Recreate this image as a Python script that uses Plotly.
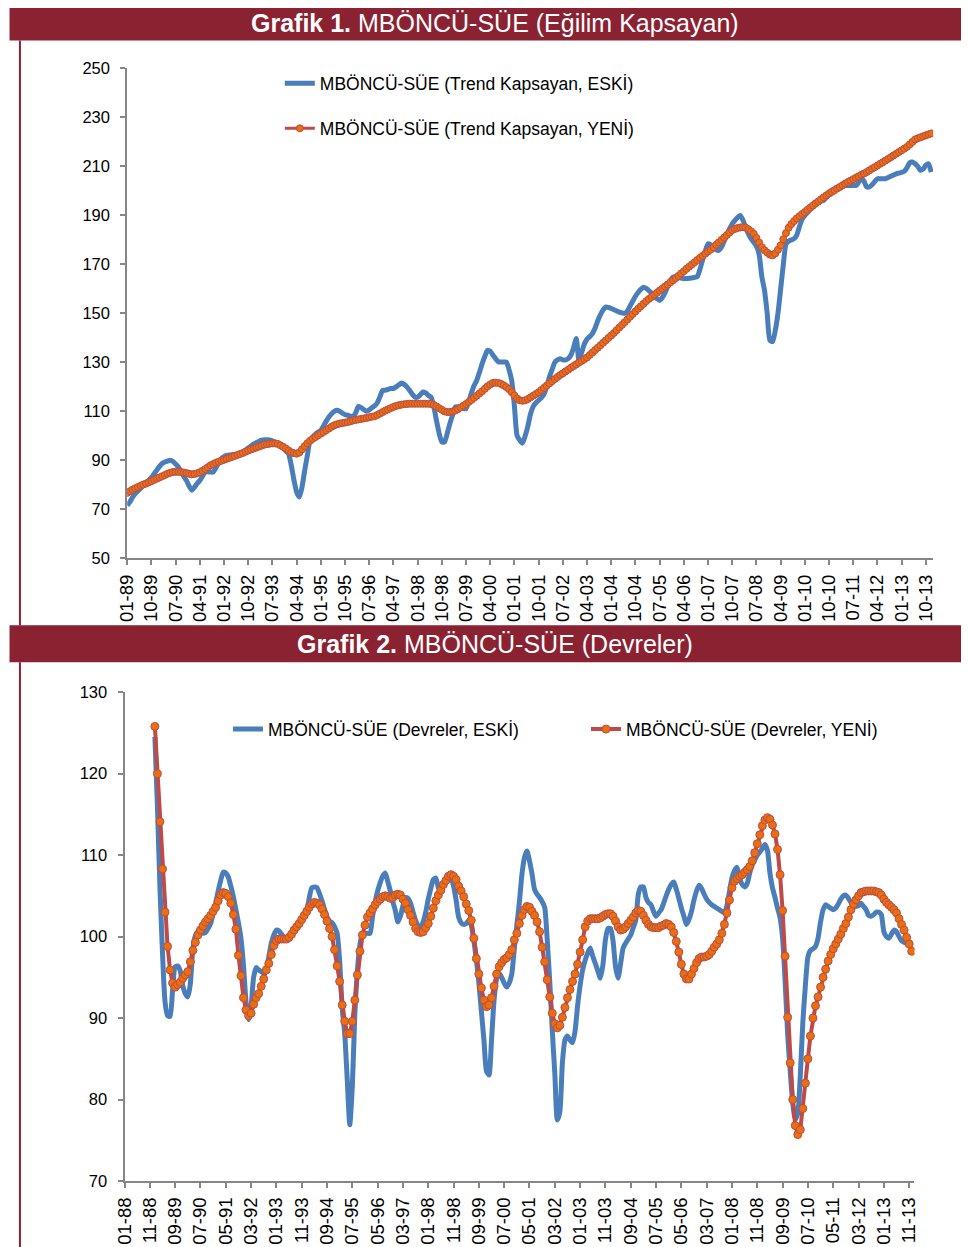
import plotly.graph_objects as go

# ---------------- DATA ----------------
# Chart 1: monthly, 01-1989 .. 12-2013
trend_old = [
    71.6, 73.0, 75.0, 76.4, 77.5, 78.6, 80.0, 81.0, 81.8, 83.0, 84.5, 86.0,
    87.5, 88.7, 89.3, 89.7, 90.0, 89.5, 88.5, 87.3, 85.5, 83.5, 81.8, 79.5,
    77.8, 79.0, 80.5, 81.8, 83.5, 85.2, 85.3, 85.2, 85.2, 87.0, 89.0, 90.7,
    91.5, 92.0, 92.2, 92.3, 92.4, 92.4, 92.8, 93.4, 94.2, 95.0, 95.8, 96.6,
    97.2, 97.8, 98.2, 98.4, 98.4, 98.3, 98.0, 97.4, 96.8, 96.0, 95.0, 93.8,
    92.7, 88.0, 82.0, 77.0, 75.0, 79.0, 85.9, 92.0, 98.2, 99.5, 100.7, 101.5,
    102.2, 104.0, 106.0, 107.7, 109.0, 110.0, 110.4, 110.0, 109.3, 108.6, 108.4, 108.0,
    107.7, 109.5, 112.0, 111.5, 110.7, 110.0, 110.6, 111.5, 112.2, 113.5, 116.0, 118.6,
    118.6, 119.0, 119.3, 119.3, 120.0, 120.8, 121.6, 121.0, 120.0, 118.6, 117.0, 115.8,
    115.8, 116.8, 117.9, 117.5, 116.5, 115.8, 112.0, 106.3, 101.0, 97.5, 97.5, 101.0,
    105.0, 108.5, 111.8, 111.8, 111.5, 111.1, 111.1, 114.0, 117.5, 120.5, 122.7, 126.0,
    129.5, 132.5, 134.9, 134.5, 133.0, 131.5, 130.2, 130.1, 130.1, 130.1, 127.0, 122.5,
    112.0, 100.0, 98.2, 97.0, 100.0, 104.0, 109.0, 112.0, 113.5, 114.5, 115.5, 117.0,
    120.0, 124.0, 127.0, 130.0, 131.0, 131.5, 131.0, 131.0, 131.5, 133.0, 136.0, 139.7,
    130.8, 134.0, 137.5, 139.5, 140.5, 141.7, 144.0, 147.0, 149.5, 151.5, 152.6, 152.4,
    152.0, 151.5, 151.0, 150.5, 150.2, 150.0, 151.0, 153.0, 155.0, 157.0, 158.5, 159.8,
    160.7, 160.2, 159.3, 158.3, 157.0, 156.0, 155.3, 156.5, 158.5, 161.0, 163.5, 164.8,
    164.8, 164.6, 164.4, 164.2, 164.2, 164.3, 164.5, 164.7, 165.0, 168.0, 172.0, 175.5,
    178.4, 178.0, 177.0, 176.0, 175.7, 177.0, 179.5, 182.0, 184.5, 186.6, 188.0, 189.2,
    190.0, 188.0, 185.0, 182.5, 180.5, 179.0, 177.5, 174.0, 165.0, 159.4, 150.0, 139.0,
    138.5, 143.0, 150.0, 160.0, 170.0, 178.4, 179.5, 180.0, 180.5, 182.0, 185.5, 188.5,
    190.0, 191.2, 192.3, 193.4, 194.3, 195.1, 195.8, 196.1, 197.5, 199.5, 200.2, 200.7,
    201.2, 201.6, 202.0, 202.2, 202.2, 202.2, 202.2, 202.2, 203.5, 205.2, 204.0, 201.6,
    201.6, 202.5, 203.8, 205.0, 205.0, 205.0, 205.0, 205.5, 206.0, 206.5, 207.0, 207.3,
    207.6, 208.0, 209.5, 211.5, 211.8, 211.1, 210.0, 208.4, 209.0, 210.5, 211.1, 207.7,
]
trend_new = [
    76.7, 77.4, 78.0, 78.6, 79.1, 79.6, 80.1, 80.5, 81.0, 81.5, 82.0, 82.5,
    83.0, 83.5, 84.0, 84.5, 84.9, 85.2, 85.3, 85.3, 85.2, 85.0, 84.8, 84.5,
    84.3, 84.4, 84.7, 85.1, 85.7, 86.4, 87.2, 88.0, 88.5, 89.0, 89.4, 89.8,
    90.2, 90.6, 91.0, 91.4, 91.8, 92.2, 92.6, 93.0, 93.5, 94.0, 94.4, 94.8,
    95.2, 95.6, 96.0, 96.4, 96.6, 96.8, 96.9, 96.9, 96.7, 96.1, 95.5, 94.8,
    94.0, 93.3, 92.9, 92.7, 93.2, 94.5, 95.8, 97.0, 98.0, 98.8, 99.5, 100.2,
    100.9, 101.6, 102.3, 103.0, 103.7, 104.3, 104.7, 105.0, 105.2, 105.4, 105.6, 105.9,
    106.3, 106.5, 106.7, 106.9, 107.1, 107.3, 107.6, 107.8, 108.0, 108.5, 109.1, 109.7,
    110.3, 110.8, 111.3, 111.8, 112.2, 112.5, 112.7, 112.9, 113.0, 113.1, 113.1, 113.1,
    113.1, 113.1, 113.1, 113.1, 113.1, 113.0, 112.6, 112.0, 111.3, 110.6, 110.0, 109.7,
    109.7, 109.9, 110.3, 110.9, 111.6, 112.3, 113.0, 113.8, 114.6, 115.5, 116.4, 117.3,
    118.2, 119.2, 120.2, 121.0, 121.6, 121.7, 121.6, 121.2, 120.6, 119.9, 119.0, 117.8,
    116.5, 115.2, 114.5, 114.3, 114.5, 115.0, 115.7, 116.4, 117.1, 117.8, 118.7, 119.6,
    120.5, 121.4, 122.3, 123.2, 124.0, 124.8, 125.5, 126.3, 127.0, 127.8, 128.5, 129.2,
    129.9, 130.6, 131.3, 132.0, 133.0, 134.0, 135.0, 136.0, 137.0, 138.0, 139.0, 140.0,
    141.0, 142.0, 143.1, 144.2, 145.3, 146.4, 147.5, 148.6, 149.7, 150.8, 151.9, 152.9,
    153.9, 155.0, 155.9, 156.7, 157.6, 158.4, 159.3, 160.1, 161.0, 161.8, 162.7, 163.5,
    164.4, 165.3, 166.3, 167.2, 168.2, 169.1, 170.0, 170.9, 171.8, 172.7, 173.5, 174.4,
    175.3, 176.1, 177.0, 178.0, 179.0, 180.0, 181.0, 182.0, 183.0, 184.0, 184.5, 184.9,
    185.1, 185.2, 185.0, 184.4, 183.5, 182.5, 180.8, 178.9, 177.0, 175.8, 174.8, 174.0,
    173.7, 174.5, 176.0, 177.8, 180.3, 182.8, 185.0, 186.5, 187.7, 188.8, 189.7, 190.6,
    191.4, 192.3, 193.2, 194.0, 194.9, 195.7, 196.6, 197.4, 198.2, 198.9, 199.6, 200.3,
    201.0, 201.6, 202.3, 203.0, 203.6, 204.2, 204.8, 205.4, 206.0, 206.6, 207.1, 207.7,
    208.4, 209.1, 209.7, 210.4, 211.1, 211.7, 212.4, 213.1, 213.8, 214.5, 215.2, 215.9,
    216.6, 217.3, 218.0, 219.0, 220.0, 221.0, 221.5, 221.9, 222.3, 222.7, 223.1, 223.5,
]

# Chart 2: monthly, 01-1989 .. 12-2013 (axis starts 01-1988)
cycle_old = [
    124.5, 116.0, 106.0, 98.0, 92.0, 90.3, 90.2, 93.5, 96.3, 96.4, 95.8, 94.0,
    93.0, 92.6, 94.2, 98.5, 100.1, 100.6, 100.5, 100.4, 100.5, 101.0, 101.6, 102.8,
    104.1, 105.6, 106.9, 107.9, 107.8, 107.3, 106.2, 104.9, 103.3, 101.7, 99.8, 96.5,
    92.0, 89.8, 91.4, 95.0, 96.2, 95.9, 95.7, 95.5, 96.0, 97.5, 99.2, 100.2,
    100.8, 100.7, 100.3, 99.9, 99.8, 100.1, 100.5, 100.9, 101.3, 101.7, 102.0, 102.5,
    103.1, 104.8, 106.0, 106.1, 106.0, 105.3, 104.4, 103.4, 102.4, 101.9, 101.7, 101.2,
    100.4, 97.0, 91.2, 88.1, 82.4, 76.9, 81.6, 90.5, 95.8, 99.0, 100.4, 100.4,
    100.4, 100.4, 102.5, 104.2, 105.6, 106.6, 107.4, 107.8, 106.8, 105.6, 104.3, 103.2,
    101.8, 102.5, 103.8, 104.8, 104.7, 104.1, 103.0, 102.0, 101.3, 101.3, 101.8, 103.0,
    104.6, 105.9, 107.0, 107.2, 106.0, 105.6, 106.2, 106.8, 107.2, 107.2, 106.2, 104.5,
    102.4, 101.7, 101.5, 101.6, 102.0, 101.4, 99.5, 97.2, 94.3, 90.8, 87.3, 83.5,
    83.0, 87.3, 92.2, 94.8, 95.5, 95.0, 94.3, 93.8, 94.3, 95.4, 98.5, 101.4,
    104.2, 107.6, 109.7, 110.5, 109.3, 107.7, 105.8, 105.2, 104.8, 104.3, 103.6, 99.6,
    94.5, 88.5, 83.2, 77.5, 78.5, 84.5, 87.3, 87.8, 87.3, 87.0, 88.4, 91.5,
    94.0, 95.9, 97.1, 98.0, 98.6, 97.6, 96.7, 95.8, 94.9, 96.5, 99.6, 101.0,
    101.0, 99.5, 96.3, 94.9, 96.7, 98.6, 99.2, 99.7, 100.2, 101.1, 102.0, 105.2,
    106.1, 106.1, 104.8, 104.2, 103.9, 103.1, 102.5, 102.9, 103.3, 104.1, 105.0, 105.8,
    106.4, 106.7, 105.8, 104.7, 103.5, 102.5, 101.5, 102.1, 103.1, 104.5, 105.6, 106.3,
    105.9, 105.2, 104.6, 104.2, 103.9, 103.7, 103.5, 103.3, 103.1, 102.9, 103.8, 105.5,
    107.2, 108.1, 108.5, 107.2, 106.4, 106.1, 106.5, 107.8, 108.8, 109.4, 110.0, 110.4,
    110.8, 111.3, 110.6, 107.8, 106.0, 104.8, 103.5, 102.3, 99.8, 94.5, 88.0, 83.5,
    79.6, 77.6, 78.3, 83.0, 89.5, 94.0, 97.5, 98.3, 98.5, 98.8, 99.8, 101.8,
    103.3, 103.9, 103.7, 103.5, 103.3, 103.5, 104.0, 104.6, 105.0, 105.1, 104.7, 104.2,
    103.9, 103.7, 103.8, 104.1, 103.7, 103.3, 102.6, 102.5, 102.7, 103.0, 103.0, 102.7,
    100.6, 100.0, 99.8, 100.3, 100.8, 100.6, 100.0, 99.5, 99.3, 99.2, 99.2, 99.2,
]
cycle_new = [
    125.8, 120.0, 114.1, 108.3, 103.0, 98.8, 95.9, 94.3, 93.8, 94.1, 94.4, 94.9,
    95.3, 95.7, 96.9, 98.3, 99.3, 100.2, 100.8, 101.3, 101.8, 102.2, 102.6, 103.1,
    103.6, 104.4, 105.1, 105.4, 105.3, 104.9, 104.1, 102.7, 100.9, 97.7, 95.2, 92.5,
    91.0, 90.3, 90.6, 91.7, 92.5, 93.0, 93.9, 94.8, 95.9, 96.7, 97.8, 98.9,
    99.5, 99.7, 99.7, 99.7, 99.7, 99.9, 100.3, 100.8, 101.2, 101.6, 102.1, 102.6,
    103.1, 103.6, 104.0, 104.2, 104.1, 103.9, 103.4, 102.7, 101.9, 101.0, 100.0, 98.4,
    96.4, 94.5, 91.6, 89.6, 88.1, 88.1, 89.6, 92.2, 95.3, 98.2, 100.2, 101.4,
    102.4, 102.9, 103.4, 103.9, 104.3, 104.6, 104.9, 105.0, 104.9, 104.7, 104.8, 105.1,
    105.2, 105.1, 104.6, 104.1, 103.3, 102.6, 101.8, 101.0, 100.6, 100.5, 100.6, 101.1,
    101.6, 102.5, 103.5, 104.4, 105.1, 105.7, 106.4, 106.9, 107.4, 107.6, 107.4, 107.0,
    106.2, 105.6, 104.9, 104.0, 103.2, 102.0, 99.8, 97.3, 95.4, 93.7, 92.2, 91.4,
    91.6, 92.5, 93.9, 95.4, 96.3, 96.8, 97.2, 97.4, 97.8, 98.4, 99.6, 100.4,
    101.6, 102.6, 103.3, 103.7, 103.6, 103.1, 102.6, 101.8, 100.6, 98.7, 96.9, 94.7,
    92.6, 90.6, 89.3, 88.8, 89.1, 90.1, 91.3, 92.5, 93.5, 94.5, 95.4, 96.6,
    98.1, 99.6, 101.2, 101.9, 102.2, 102.2, 102.2, 102.2, 102.3, 102.5, 102.7, 102.8,
    102.8, 102.5, 101.9, 101.2, 100.8, 100.9, 101.2, 101.6, 102.0, 102.4, 102.9, 103.2,
    103.1, 102.6, 102.0, 101.5, 101.2, 101.1, 101.1, 101.1, 101.3, 101.4, 101.6, 101.5,
    101.2, 100.5, 99.4, 98.1, 96.6, 95.4, 94.8, 94.8, 95.4, 96.1, 96.8, 97.3,
    97.5, 97.5, 97.6, 97.8, 98.2, 98.7, 99.1, 99.6, 100.4, 101.5, 102.9, 104.5,
    106.0, 106.8, 107.1, 107.4, 107.6, 107.9, 108.2, 108.6, 109.3, 110.3, 111.4, 112.5,
    113.6, 114.3, 114.6, 114.4, 113.7, 112.6, 110.7, 107.6, 103.2, 97.6, 90.1, 84.5,
    80.0, 76.8, 75.7, 76.3, 78.9, 82.0, 85.0, 87.8, 90.0, 91.5, 92.6, 93.8,
    95.0, 96.0, 97.0, 97.8, 98.5, 99.1, 99.7, 100.3, 101.0, 101.6, 102.4, 103.3,
    104.0, 104.5, 105.0, 105.4, 105.5, 105.6, 105.6, 105.6, 105.6, 105.5, 105.4, 105.1,
    104.6, 104.2, 103.9, 103.6, 103.3, 102.9, 102.2, 101.5, 100.8, 99.9, 99.1, 98.2,
]

ticks1 = ["01-89", "10-89", "07-90", "04-91", "01-92", "10-92", "07-93", "04-94",
          "01-95", "10-95", "07-96", "04-97", "01-98", "10-98", "07-99", "04-00",
          "01-01", "10-01", "07-02", "04-03", "01-04", "10-04", "07-05", "04-06",
          "01-07", "10-07", "07-08", "04-09", "01-10", "10-10", "07-11", "04-12",
          "01-13", "10-13"]
ticks2 = ["01-88", "11-88", "09-89", "07-90", "05-91", "03-92", "01-93", "11-93",
          "09-94", "07-95", "05-96", "03-97", "01-98", "11-98", "09-99", "07-00",
          "05-01", "03-02", "01-03", "11-03", "09-04", "07-05", "05-06", "03-07",
          "01-08", "11-08", "09-09", "07-10", "05-11", "03-12", "01-13", "11-13"]

names1 = ["MBÖNCÜ-SÜE (Trend Kapsayan, ESKİ)", "MBÖNCÜ-SÜE (Trend Kapsayan, YENİ)"]
names2 = ["MBÖNCÜ-SÜE (Devreler, ESKİ)", "MBÖNCÜ-SÜE (Devreler, YENİ)"]
title1 = ("Grafik 1.", "MBÖNCÜ-SÜE (Eğilim Kapsayan)")
title2 = ("Grafik 2.", "MBÖNCÜ-SÜE (Devreler)")

# ---------------- LAYOUT HELPERS ----------------
# measured: screen position = SC * figure px + OFF
SC, OFF = 0.986, 16.5
W, H = 966, 1248
def fx(p):
    return ((p - OFF) / SC) / W
def fy(p):
    return 1 - ((p - OFF) / SC) / H

BLUE = "#4A7EBB"
RED = "#BE4B48"
ORANGE = "#E8700F"
HEAD = "#8B2232"
AXC = "#868686"
FONT = "Liberation Sans, Arial, sans-serif"

x1 = list(range(len(trend_old)))              # month index from 01-89
x2 = [i + 12 for i in range(len(cycle_old))]  # month index from 01-88

fig = go.Figure()
fig.add_trace(go.Scatter(x=x1, y=trend_old, mode="lines", name=names1[0],
                         line=dict(color=BLUE, width=5, shape="spline", smoothing=0.6),
                         xaxis="x", yaxis="y", legend="legend"))
fig.add_trace(go.Scatter(x=x1, y=trend_new, mode="lines+markers", name=names1[1],
                         line=dict(color=RED, width=3),
                         marker=dict(size=7, color=ORANGE, line=dict(color=RED, width=1)),
                         xaxis="x", yaxis="y", legend="legend2"))
fig.add_trace(go.Scatter(x=x2, y=cycle_old, mode="lines", name=names2[0],
                         line=dict(color=BLUE, width=5, shape="spline", smoothing=0.6),
                         xaxis="x2", yaxis="y2", legend="legend3"))
fig.add_trace(go.Scatter(x=x2, y=cycle_new, mode="lines+markers", name=names2[1],
                         line=dict(color=RED, width=4),
                         marker=dict(size=8, color=ORANGE, line=dict(color=RED, width=1)),
                         xaxis="x2", yaxis="y2", legend="legend4"))

base_axis = dict(showline=True, linecolor=AXC, linewidth=2, ticks="outside",
                 ticklen=5, tickwidth=1.5, tickcolor=AXC, showgrid=False, zeroline=False)
xfont = dict(family=FONT, size=18.5, color="#000000")
yfont = dict(family=FONT, size=16.5, color="#000000")

fig.update_layout(
    width=W, height=H, autosize=False, showlegend=True,
    margin=dict(l=0, r=0, t=0, b=0, pad=0),
    paper_bgcolor="white", plot_bgcolor="white",
    xaxis=dict(domain=[fx(125), fx(933)], range=[0, 299.7], anchor="y",
               tickmode="array", tickvals=[9 * k for k in range(len(ticks1))],
               ticktext=ticks1, tickangle=-90, tickfont=xfont,
               ticklabelstandoff=2, **base_axis),
    yaxis=dict(domain=[fy(558), fy(68)], range=[50, 250], anchor="x",
               tickmode="linear", tick0=50, dtick=20, tickfont=yfont,
               ticklabelstandoff=7, **base_axis),
    xaxis2=dict(domain=[fx(122.3), fx(914.3)], range=[0, 312.1], anchor="y2",
                tickmode="array", tickvals=[10 * k for k in range(len(ticks2))],
                ticktext=ticks2, tickangle=-90, tickfont=xfont,
                ticklabelstandoff=2, **base_axis),
    yaxis2=dict(domain=[fy(1181), fy(692)], range=[70, 130], anchor="x2",
                tickmode="linear", tick0=70, dtick=10, tickfont=yfont,
                ticklabelstandoff=7, **base_axis),
)

leg = dict(bgcolor="rgba(0,0,0,0)", borderwidth=0, xanchor="left", yanchor="middle",
           font=dict(family=FONT, size=17.5, color="#000000"), orientation="v")
fig.update_layout(
    legend=dict(x=fx(278), y=fy(83), **leg),
    legend2=dict(x=fx(278), y=fy(128), **leg),
    legend3=dict(x=fx(226), y=fy(729), **leg),
    legend4=dict(x=fx(585), y=fy(729), **leg),
)

shapes = []
# header bars
shapes.append(dict(type="rect", xref="paper", yref="paper", x0=-0.01, x1=1.01,
                   y0=fy(40), y1=1.01, fillcolor=HEAD, line=dict(width=0), layer="below"))
shapes.append(dict(type="rect", xref="paper", yref="paper", x0=-0.01, x1=1.01,
                   y0=fy(662), y1=fy(625), fillcolor=HEAD, line=dict(width=0), layer="below"))
# left frame lines
shapes.append(dict(type="line", xref="paper", yref="paper", x0=0.001, x1=0.001,
                   y0=fy(625), y1=fy(40), line=dict(color=HEAD, width=2)))
shapes.append(dict(type="line", xref="paper", yref="paper", x0=0.001, x1=0.001,
                   y0=-0.01, y1=fy(662), line=dict(color=HEAD, width=2)))
fig.update_layout(shapes=shapes)

fig.update_layout(annotations=[
    dict(text="<b>%s</b> %s" % title1, xref="paper", yref="paper", x=fx(494), y=fy(23),
         xanchor="center", yanchor="middle", showarrow=False,
         font=dict(family=FONT, size=25, color="white")),
    dict(text="<b>%s</b> %s" % title2, xref="paper", yref="paper", x=fx(494), y=fy(644),
         xanchor="center", yanchor="middle", showarrow=False,
         font=dict(family=FONT, size=25, color="white")),
])

fig.write_html("out.html")
